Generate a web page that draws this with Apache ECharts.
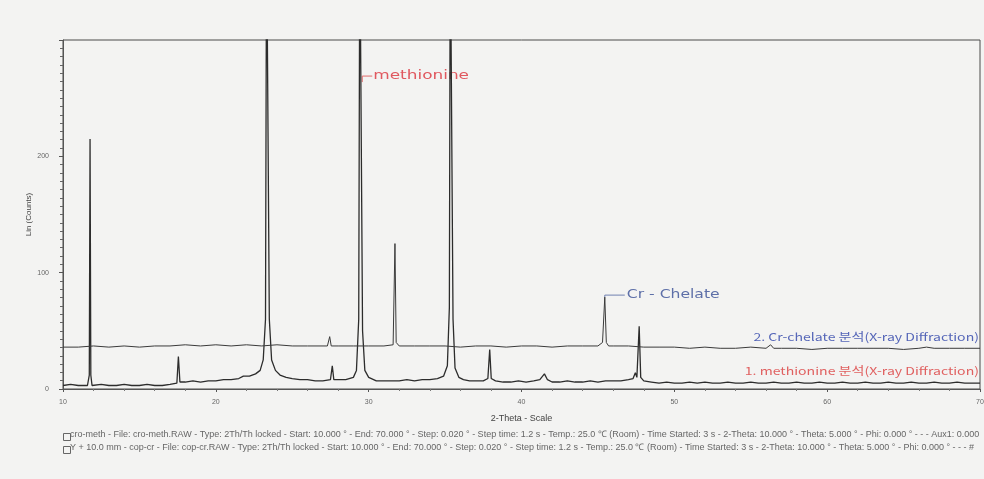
<!DOCTYPE html>
<html><head><meta charset="utf-8">
<script src="https://cdn.jsdelivr.net/npm/echarts@6/dist/echarts.min.js"></script>
<style>html,body{margin:0;padding:0;background:#f3f3f2;overflow:hidden;}#c{width:984px;height:479px;}</style>
</head><body><div id="c"></div>
<script>
// 2-Theta positions and counts, methionine (series 1)
var methTheta = [10.0,10.5,11.0,11.6,11.72,11.77,11.82,11.9,12.5,13.0,13.5,14.0,14.5,15.0,15.5,16.0,16.5,17.0,17.45,17.55,17.65,18.0,18.5,19.0,19.5,20.0,20.5,21.0,21.5,21.8,22.2,22.6,22.9,23.1,23.25,23.32,23.42,23.5,23.65,23.9,24.2,24.6,25.0,25.5,26.0,26.5,27.0,27.5,27.62,27.72,28.0,28.5,29.0,29.2,29.35,29.42,29.52,29.6,29.75,30.0,30.5,31.0,31.5,32.0,32.5,33.0,33.5,34.0,34.5,34.9,35.15,35.28,35.34,35.45,35.52,35.65,35.9,36.2,36.6,37.0,37.5,37.8,37.92,38.02,38.3,38.8,39.3,39.8,40.3,40.8,41.2,41.5,41.7,42.0,42.5,43.0,43.5,44.0,44.5,45.0,45.5,46.0,46.5,47.0,47.3,47.45,47.55,47.7,47.8,48.0,48.5,49,49.5,50,50.5,51,51.5,52,52.5,53,53.5,54,54.5,55,55.5,56,56.5,57,57.5,58,58.5,59,59.5,60,60.5,61,61.5,62,62.5,63,63.5,64,64.5,65,65.5,66,66.5,67,67.5,68,68.5,69,69.5,70];
var methCounts = [3,4,3,3,12,215,12,3,4,3,3,4,3,3,4,3,3,4,5,28,6,6,7,6,7,7,8,8,9,11,11,13,16,25,60,400,400,60,25,16,12,10,9,8,8,7,7,8,20,8,8,8,10,16,60,400,400,50,16,10,7,7,7,7,8,7,8,8,9,11,20,70,400,400,60,18,10,8,7,7,7,9,34,9,7,6,6,7,6,7,8,13,8,6,6,7,6,6,7,6,7,7,7,8,9,14,10,54,10,7,6,5,6,5,5,6,5,6,5,5,6,5,5,6,5,5,6,5,5,6,5,5,6,5,5,6,5,5,6,5,5,6,5,5,6,5,5,6,5,5,6,5,5,5];
// Cr-chelate (series 2, offset)
var crTheta = [10,11,12,13,14,15,16,17,18,19,20,21,22,23,24,25,26,27.3,27.45,27.55,28,29,30,31,31.6,31.72,31.8,32,33,34,35,36,37,38,39,40,41,42,43,44,45,45.3,45.45,45.55,45.7,46,47,48,49,50,51,52,53,54,55,56,56.3,56.5,57,58,59,60,61,62,63,64,65,66,66.5,67,68,69,70];
var crCounts = [36,36,37,36,37,36,37,37,38,37,38,37,38,37,38,37,37,37,45,37,37,37,37,37,38,125,40,37,37,37,37,36,37,37,36,37,37,36,37,37,37,40,79,40,37,37,37,36,36,36,35,36,35,35,36,35,38,35,35,35,34,35,35,35,35,35,34,35,36,35,35,35,35];
var xTicks = [10,20,30,40,50,60,70];
var yTicks = [0,100,200];

function zip(a,b){var r=[];for(var i=0;i<a.length;i++)r.push([a[i],b[i]]);return r;}

var chart = echarts.init(document.getElementById('c'));
var axisCol = '#555';
chart.setOption({
  backgroundColor:'#f3f3f2',
  animation:false,
  grid:{left:63,right:4,top:40,bottom:90,outerBoundsMode:'none',containLabel:false,show:true,borderColor:'#4a4a4a',borderWidth:1,backgroundColor:'transparent'},
  xAxis:{type:'value',min:10,max:70,interval:10,
    axisLine:{lineStyle:{color:axisCol}},
    axisTick:{inside:false,length:3,lineStyle:{color:axisCol}},
    minorTick:{show:true,splitNumber:5,length:2,lineStyle:{color:'#777'}},
    splitLine:{show:false},
    axisLabel:{fontSize:7,color:'#666',margin:10,formatter:function(v){return xTicks.indexOf(v)>=0?v:'';}},
    name:'2-Theta - Scale',nameLocation:'middle',nameGap:25,nameMoveOverlap:false,nameTextStyle:{fontSize:9,color:'#444',fontFamily:'Liberation Sans'}},
  yAxis:{type:'value',min:0,max:300,interval:100,
    axisLine:{lineStyle:{color:axisCol}},
    axisTick:{inside:false,length:4,lineStyle:{color:axisCol}},
    minorTick:{show:true,splitNumber:14,length:3,lineStyle:{color:'#666'}},
    splitLine:{show:false},
    axisLabel:{fontSize:7,color:'#666',margin:14,formatter:function(v){return yTicks.indexOf(v)>=0?v:'';}},
    name:'Lin (Counts)',nameLocation:'middle',nameGap:30,nameMoveOverlap:false,nameTextStyle:{fontSize:8,color:'#444',fontFamily:'Liberation Sans'}},
  series:[
    {name:'methionine',type:'line',data:zip(methTheta,methCounts),symbol:'none',clip:true,
     lineStyle:{color:'#2c2c2c',width:1.3}},
    {name:'Cr-chelate',type:'line',data:zip(crTheta,crCounts),symbol:'none',clip:true,
     lineStyle:{color:'#3a3a3a',width:1}}
  ]
});

function P(x,y){return chart.convertToPixel({gridIndex:0},[x,y]);}
var pm = P(29.45,269), pc = P(45.45,79), r2 = P(70,36), r1 = P(70,5);
var legend1 = 'cro-meth - File: cro-meth.RAW - Type: 2Th/Th locked - Start: 10.000 ° - End: 70.000 ° - Step: 0.020 ° - Step time: 1.2 s - Temp.: 25.0 ℃ (Room) - Time Started: 3 s - 2-Theta: 10.000 ° - Theta: 5.000 ° - Phi: 0.000 ° - - - Aux1: 0.000';
var legend2 = 'Y + 10.0 mm - cop-cr - File: cop-cr.RAW - Type: 2Th/Th locked - Start: 10.000 ° - End: 70.000 ° - Step: 0.020 ° - Step time: 1.2 s - Temp.: 25.0 ℃ (Room) - Time Started: 3 s - 2-Theta: 10.000 ° - Theta: 5.000 ° - Phi: 0.000 ° - - - #';
chart.setOption({graphic:[
  {type:'polyline',shape:{points:[[pm[0]+2,pm[1]+6],[pm[0]+2,pm[1]],[pm[0]+12,pm[1]]]},style:{stroke:'#e06a6a',lineWidth:1,fill:null}},
  {type:'text',x:pm[0]+13,y:pm[1],scaleX:1.3,style:{text:'methionine',fill:'#e0585f',font:'13px "DejaVu Sans"',textVerticalAlign:'middle',verticalAlign:'middle'}},
  {type:'polyline',shape:{points:[[pc[0],pc[1]],[pc[0],pc[1]-2],[pc[0]+20,pc[1]-2]]},style:{stroke:'#7080b0',lineWidth:1,fill:null}},
  {type:'text',x:pc[0]+22,y:pc[1]-2,scaleX:1.3,style:{text:'Cr - Chelate',fill:'#5d6fa8',font:'12px "DejaVu Sans"',textVerticalAlign:'middle',verticalAlign:'middle'}},
  {type:'text',x:r2[0]-1,y:r2[1]-10,scaleX:1.28,style:{text:'2. Cr-chelate 분석(X-ray Diffraction)',fill:'#5566b8',font:'11px "Noto Sans CJK KR"',textAlign:'right',align:'right',textVerticalAlign:'middle',verticalAlign:'middle'}},
  {type:'text',x:r1[0]-1,y:r1[1]-12,scaleX:1.28,style:{text:'1. methionine 분석(X-ray Diffraction)',fill:'#e06060',font:'11px "Noto Sans CJK KR"',textAlign:'right',align:'right',textVerticalAlign:'middle',verticalAlign:'middle'}},
  {type:'rect',left:61,top:431,shape:{width:7,height:7},style:{fill:'none',stroke:'#666',lineWidth:1}},
  {type:'rect',left:61,top:444,shape:{width:7,height:7},style:{fill:'none',stroke:'#666',lineWidth:1}},
  {type:'text',left:70,top:430,style:{text:legend1,fill:'#666',font:'9px "Liberation Sans"'}},
  {type:'text',left:70,top:443,style:{text:legend2,fill:'#666',font:'9px "Liberation Sans"'}}
]});
</script>
</body></html>
